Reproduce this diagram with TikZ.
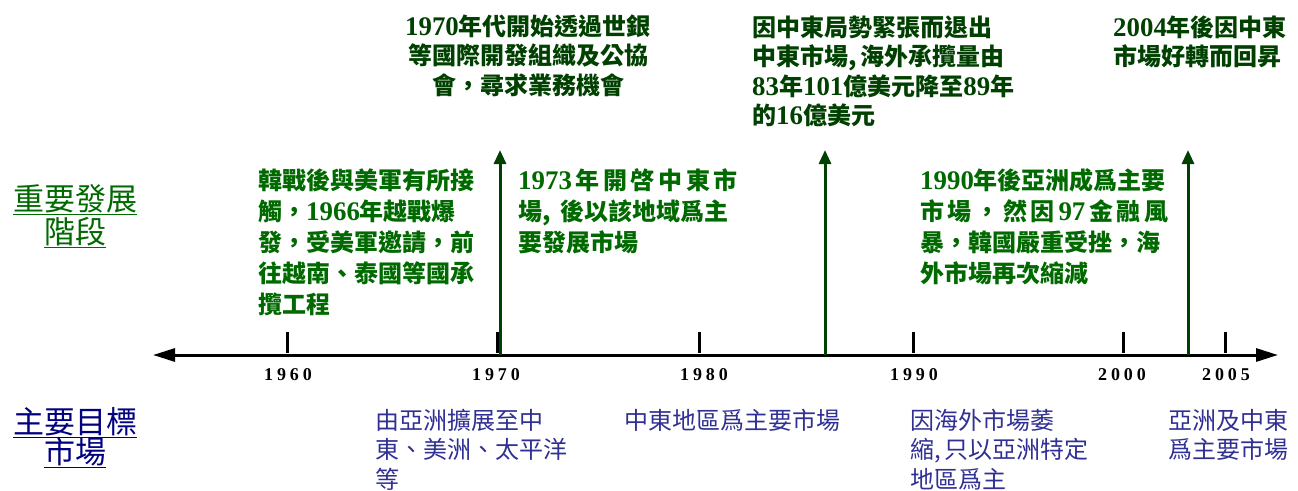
\documentclass[tikz,border=0pt]{standalone}
\usepackage{fontspec}
\setmainfont{Noto Sans CJK TC}
\newfontfamily\numfont[Scale=1.12]{Liberation Serif}
\newfontfamily\yearfont[LetterSpace=22]{Liberation Serif}
\newcommand\numtx[1]{{\numfont\bfseries #1}}
\newcommand\topstr{\rule{0pt}{22pt}}
\newcommand\labstr{\rule{0pt}{28pt}}
\usetikzlibrary{arrows.meta}
\definecolor{midgreen}{RGB}{0,105,0}
\definecolor{darkgreen}{RGB}{0,64,0}
\definecolor{arrowgreen}{RGB}{0,64,0}
\definecolor{bluetxt}{RGB}{48,48,148}
\definecolor{labelgreen}{RGB}{0,105,0}
\definecolor{labelblue}{RGB}{0,0,128}
\tikzset{
  axisline/.style={line width=3pt, {Triangle[length=22pt,width=13pt]}-{Triangle[length=22pt,width=13pt]}},
  tickline/.style={line width=3pt},
  evarrow/.style={line width=3pt, draw=arrowgreen, -{Triangle[length=14pt,width=12pt]}},
  yearlbl/.style={inner sep=0, anchor=center, font=\yearfont\bfseries\fontsize{18}{18}\selectfont},
  toptxt/.style={inner sep=0, text=darkgreen, font=\bfseries\fontsize{24}{29.5}\selectfont},
  midtxt/.style={inner sep=0, anchor=north west, align=left, text=midgreen, font=\bfseries\fontsize{24}{31}\selectfont},
  bluetext/.style={inner sep=0, anchor=north west, align=left, text=bluetxt, font=\fontsize{24}{29.5}\selectfont},
  sidelbl/.style={inner sep=0, anchor=north, align=center, font=\fontsize{31}{32}\selectfont},
}
\begin{document}
\begin{tikzpicture}[x=1pt,y=-1pt]
\useasboundingbox (0,0) rectangle (1298,490);
% axis
\coordinate (axL) at (153,355);
\coordinate (axR) at (1278,355);
\draw[axisline] (axL) -- (axR);
% ticks
\foreach \n/\x in {t60/287, t70/497, t80/699, t90/913, t00/1123, t05/1225} {
  \coordinate (\n top) at (\x,332);
  \coordinate (\n bot) at (\x,353);
  \draw[tickline] (\n top) -- (\n bot);
}
% year labels
\node[yearlbl] (y60) at (288,375) {1960};
\node[yearlbl] (y70) at (496,375) {1970};
\node[yearlbl] (y80) at (704,375) {1980};
\node[yearlbl] (y90) at (914,375) {1990};
\node[yearlbl] (y00) at (1122,375) {2000};
\node[yearlbl] (y05) at (1226,375) {2005};
% event arrows
\coordinate (e1b) at (500,355); \coordinate (e1t) at (500,150);
\coordinate (e2b) at (825,355); \coordinate (e2t) at (825,150);
\coordinate (e3b) at (1188,355); \coordinate (e3t) at (1188,150);
\draw[evarrow] (e1b) -- (e1t);
\draw[evarrow] (e2b) -- (e2t);
\draw[evarrow] (e3b) -- (e3t);
% side labels
\node[sidelbl, text=labelgreen] (labA) at (75,182) {\labstr{}\underline{重要發展}\\[1pt]\underline{階段}};
\node[sidelbl, text=labelblue] (labB) at (75,405) {\labstr{}\underline{主要目標}\\[-2pt]\underline{市場}};
% top texts
\node[toptxt, anchor=north, align=center] (top1) at (528,13) {\topstr{}\numtx{1970}年代開始透過世銀\\等國際開發組織及公協\\會，尋求業務機會};
\node[toptxt, anchor=north west, align=left] (top2) at (752,14) {\topstr{}因中東局勢緊張而退出\\中東市場,\,海外承攬量由\\\numtx{83}年\numtx{101}億美元降至\numtx{89}年\\的\numtx{16}億美元};
\node[toptxt, anchor=north west, align=left] (top3) at (1113,14) {\topstr{}\numtx{2004}年後因中東\\市場好轉而回昇};
% middle texts
\node[midtxt] (mid1) at (258,167) {\topstr{}韓戰後與美軍有所接\\觸，\numtx{1966}年越戰爆\\發，受美軍邀請，前\\往越南、泰國等國承\\攬工程};
\node[midtxt] (mid2) at (518,167) {\topstr{}\makebox[210pt][s]{\numtx{1973} 年 開 啓 中 東 市}\\\makebox[210pt][s]{場, 後以該地域爲主}\\要發展市場};
\node[midtxt] (mid3) at (920,167) {\topstr{}\numtx{1990}年後亞洲成爲主要\\\makebox[243pt][s]{市 場 ， 然 因 \numtx{97} 金 融 風}\\暴，韓國嚴重受挫，海\\外市場再次縮減};
% bottom texts
\node[bluetext] (bot1) at (375,407) {\topstr{}由亞洲擴展至中\\東、美洲、太平洋\\等};
\node[bluetext] (bot2) at (624,407) {\topstr{}中東地區爲主要市場};
\node[bluetext] (bot3) at (910,407) {\topstr{}因海外市場萎\\縮,\,只以亞洲特定\\地區爲主};
\node[bluetext] (bot4) at (1168,407) {\topstr{}亞洲及中東\\爲主要市場};
\end{tikzpicture}
\end{document}
